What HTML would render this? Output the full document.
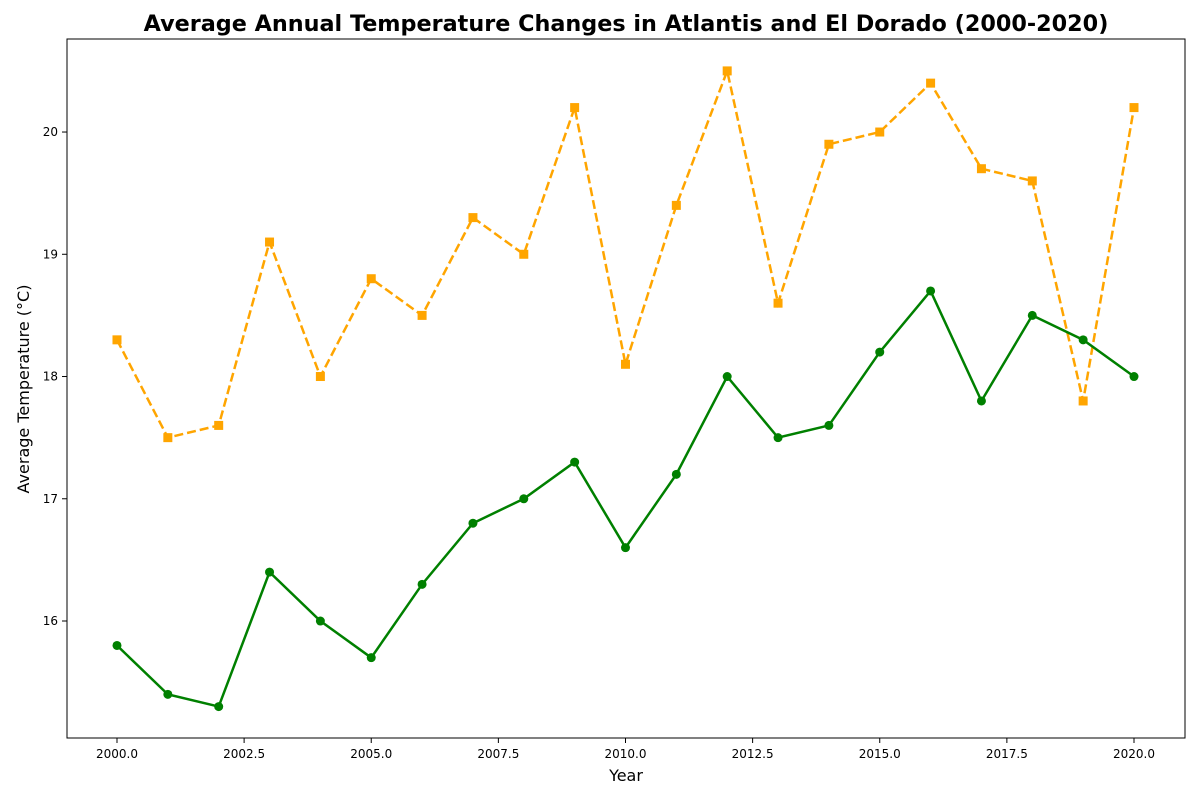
<!DOCTYPE html>
<html><head><meta charset="utf-8"><style>
body{margin:0;background:#fff;font-family:"Liberation Sans","DejaVu Sans",sans-serif;}
svg text{font-family:"DejaVu Sans","Liberation Sans",sans-serif;}
</style></head><body>
<svg id="chart" width="1200" height="800" xmlns="http://www.w3.org/2000/svg">
<rect width="1200" height="800" fill="#fff"/>
<text x="626" y="31" text-anchor="middle" font-size="22.3" font-weight="bold">Average Annual Temperature Changes in Atlantis and El Dorado (2000-2020)</text>
<g id="axes"></g>
<g id="series"></g>
<rect x="67" y="39" width="1118" height="699" fill="none" stroke="#000" stroke-width="1"/>
<text x="626" y="781" text-anchor="middle" font-size="16">Year</text>
<text transform="translate(29,389) rotate(-90)" text-anchor="middle" font-size="16">Average Temperature (°C)</text>
</svg>
<script>
const years = [2000,2001,2002,2003,2004,2005,2006,2007,2008,2009,2010,2011,2012,2013,2014,2015,2016,2017,2018,2019,2020];
const atlantis = [15.8,15.4,15.3,16.4,16.0,15.7,16.3,16.8,17.0,17.3,16.6,17.2,18.0,17.5,17.6,18.2,18.7,17.8,18.5,18.3,18.0];
const elDorado = [18.3,17.5,17.6,19.1,18.0,18.8,18.5,19.3,19.0,20.2,18.1,19.4,20.5,18.6,19.9,20.0,20.4,19.7,19.6,17.8,20.2];
const xTicks = [2000,2002.5,2005,2007.5,2010,2012.5,2015,2017.5,2020];
const yTicks = [16,17,18,19,20];

const L=67,R=1185,T=39,B=738;
const x0=1999.017,x1=2021.003,y0=15.043,y1=20.761;
const sx=v=>L+(v-x0)/(x1-x0)*(R-L);
const sy=v=>B-(v-y0)/(y1-y0)*(B-T);
const NS="http://www.w3.org/2000/svg";
function mk(tag,attrs,parent){const e=document.createElementNS(NS,tag);for(const k in attrs)e.setAttribute(k,attrs[k]);parent.appendChild(e);return e;}
const axes=document.getElementById('axes');
xTicks.forEach(t=>{
  const l=mk('line',{x1:sx(t),x2:sx(t),y1:B,y2:B+5,stroke:'#000'},axes);
  
  
  const tx=mk('text',{x:sx(t),y:B+20,'text-anchor':'middle','font-size':12},axes);
  tx.textContent=t.toFixed(1);
  
  
});
yTicks.forEach(t=>{
  const l=mk('line',{x1:L-5,x2:L,y1:sy(t),y2:sy(t),stroke:'#000'},axes);
  
  
  const tx=mk('text',{x:L-9,y:sy(t)+4,'text-anchor':'end','font-size':12},axes);
  tx.textContent=t;
  
  
});
const ser=document.getElementById('series');
function drawSeries(vals,color,dash,marker,name){
  const pts=vals.map((v,i)=>sx(years[i])+','+sy(v)).join(' ');
  const pl=mk('polyline',{points:pts,fill:'none',stroke:color,'stroke-width':2.5,'stroke-dasharray':dash},ser);
  
  
  vals.forEach((v,i)=>{
    let m;
    if(marker==='circle') m=mk('circle',{cx:sx(years[i]),cy:sy(v),r:4.5,fill:color},ser);
    else m=mk('rect',{x:sx(years[i])-4.5,y:sy(v)-4.5,width:9,height:9,fill:color},ser);
    
    
  });
}
drawSeries(elDorado,'#ffa500','9,4','square','el-dorado');
drawSeries(atlantis,'#008000','none','circle','atlantis');
</script>
</body></html>
